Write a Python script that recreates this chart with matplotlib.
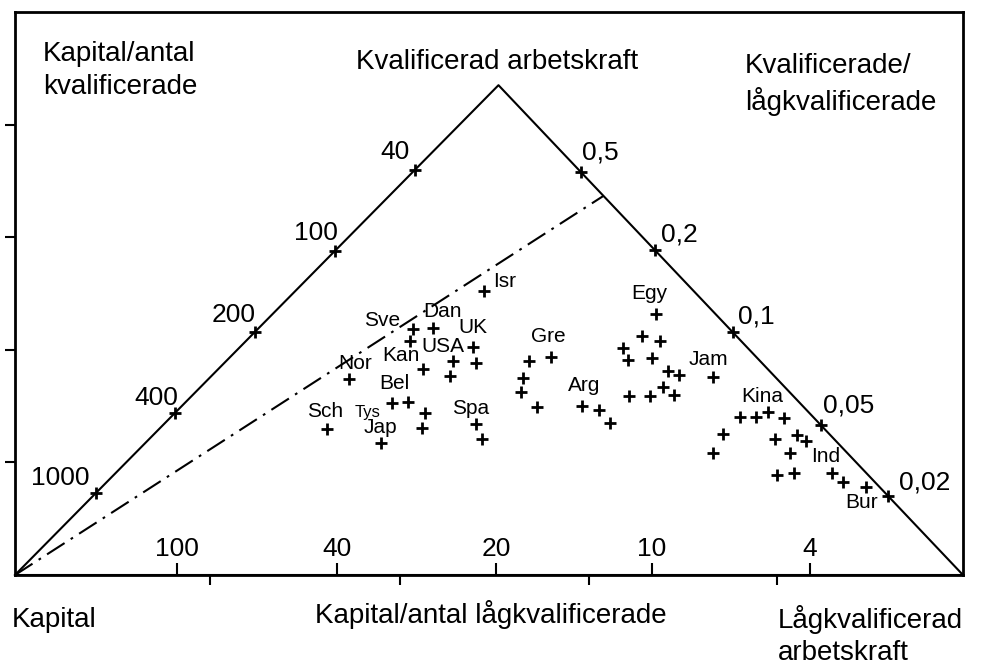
import numpy as np
import matplotlib
matplotlib.use("Agg")
import matplotlib.pyplot as plt

plt.rcParams['font.family'] = ['Liberation Sans', 'DejaVu Sans']

# triangel: hörn (kapital, kvalificerad, lågkvalificerad)
tri_x = [0.0, 2.55, 5.0, 0.0]
tri_y = [0.0, 4.35, 0.0, 0.0]

# skalor längs sidorna (andel av sidan)
left_labels = ["1000", "400", "200", "100", "40"]
left_pos = [0.167, 0.331, 0.496, 0.661, 0.827]          # från kapital-hörnet
right_labels = ["0,5", "0,2", "0,1", "0,05", "0,02"]
right_pos = [0.177, 0.337, 0.504, 0.694, 0.839]         # från toppen
base_labels = ["100", "40", "20", "10", "4"]
base_pos = [0.854, 1.698, 2.537, 3.360, 4.193]

# streckprickad linje, slutpunkt på högra sidan
dash_end = 0.226

# länder
pts_x = [2.474, 2.099, 2.205, 2.083, 2.416, 2.310, 2.431, 2.152, 2.294, 1.762,
         1.988, 2.073, 2.162, 1.646, 2.147, 2.431, 1.930, 2.463,
         2.711, 2.827, 2.679, 2.669, 2.753, 2.991, 3.080, 3.138,
         3.381, 3.307, 3.402, 3.207, 3.233, 3.360, 3.444, 3.502, 3.418, 3.476,
         3.238, 3.349, 3.681,
         3.824, 3.908, 3.971, 4.056, 3.734, 3.681, 4.008, 4.124, 4.172, 4.088,
         4.019, 4.109, 4.309, 4.367, 4.488]
pts_y = [2.522, 2.185, 2.194, 2.078, 2.025, 1.901, 1.883, 1.829, 1.767, 1.741,
         1.528, 1.536, 1.439, 1.297, 1.306, 1.341, 1.172, 1.208,
         1.901, 1.936, 1.750, 1.625, 1.492, 1.501, 1.465, 1.350,
         2.318, 2.123, 2.078, 2.016, 1.909, 1.927, 1.812, 1.776, 1.670, 1.599,
         1.590, 1.590, 1.758,
         1.403, 1.403, 1.448, 1.394, 1.252, 1.083, 1.208, 1.243, 1.190, 1.083,
         0.888, 0.906, 0.906, 0.826, 0.782]

names = ["Isr", "Sve", "Dan", "UK", "USA", "Kan", "Nor", "Bel", "Sch", "Tys",
         "Jap", "Spa", "Gre", "Arg", "Egy", "Jam", "Kina", "Ind", "Bur"]
name_x = [2.584, 1.936, 2.257, 2.416, 2.257, 2.036, 1.793, 1.999, 1.635, 1.857,
          1.925, 2.405, 2.811, 3.001, 3.344, 3.655, 3.940, 4.277, 4.467]
name_y = [2.611, 2.256, 2.336, 2.202, 2.025, 1.945, 1.874, 1.705, 1.456, 1.445,
          1.314, 1.483, 2.114, 1.679, 2.504, 1.918, 1.581, 1.048, 0.648]

fig = plt.figure(figsize=(9.83, 6.68), dpi=100)
ax = fig.add_axes([15/983, 93/668, 948/983, 563/668])
ax.set_xlim(0, 5)
ax.set_ylim(0, 5)
ax.set_xticks([1.03, 2.03, 3.03, 4.02])
ax.set_yticks([1, 2, 3, 4])
ax.set_xticklabels([])
ax.set_yticklabels([])
ax.tick_params(length=7, width=1.5, color='black')
for s in ax.spines.values():
    s.set_linewidth(2)

# triangeln
ax.plot(tri_x, tri_y, color='black', lw=1.5, clip_on=False)

apex = np.array([tri_x[1], tri_y[1]])
left_v = np.array([tri_x[0], tri_y[0]])
right_v = np.array([tri_x[2], tri_y[2]])

end = apex + dash_end * (right_v - apex)
ax.plot([0, end[0]], [0, end[1]], color='black', lw=1.5, dashes=(10, 3.5, 1.3, 3.5))

# skalmarkeringar på vänster sida
left_off = [(-35, 15), (-19, 15), (-21, 17), (-19, 18), (-20, 18)]
for lab, t, off in zip(left_labels, left_pos, left_off):
    p = left_v + t * (apex - left_v)
    ax.plot(p[0], p[1], marker='+', ms=9, mew=2, color='black')
    ax.annotate(lab, p, xytext=off, textcoords='offset pixels',
                ha='center', va='center', fontsize=19)

right_off = [(20, 19), (24, 16), (24, 16), (28, 20), (36, 14)]
for lab, t, off in zip(right_labels, right_pos, right_off):
    p = apex + t * (right_v - apex)
    ax.plot(p[0], p[1], marker='+', ms=9, mew=2, color='black')
    ax.annotate(lab, p, xytext=off, textcoords='offset pixels',
                ha='center', va='center', fontsize=19)

for lab, x in zip(base_labels, base_pos):
    ax.plot(x, 0, marker=2, ms=9, mew=1.5, color='black')
    ax.annotate(lab, (x, 0), xytext=(0, 26), textcoords='offset pixels',
                ha='center', va='center', fontsize=19)

# länderna
ax.plot(pts_x, pts_y, ls='none', marker='+', ms=9, mew=2, color='black')
for n, x, y in zip(names, name_x, name_y):
    ax.text(x, y, n, ha='center', va='center',
            fontsize=12 if n == "Tys" else 15)

# rubriker
ax.text(0.148, 4.74, "Kapital/antal\nkvalificerade", ha='left', va='top',
        fontsize=20, linespacing=1.35)
ax.text(2.542, 4.556, "Kvalificerad arbetskraft", ha='center', va='center',
        fontsize=20)
ax.text(3.85, 4.64, "Kvalificerade/\nlågkvalificerade", ha='left', va='top',
        fontsize=20, linespacing=1.35)
ax.text(-0.016, -0.4, "Kapital", ha='left', va='center', fontsize=20,
        clip_on=False)
ax.text(2.51, -0.355, "Kapital/antal lågkvalificerade", ha='center',
        va='center', fontsize=20, clip_on=False)
ax.text(4.024, -0.265, "Lågkvalificerad\narbetskraft", ha='left', va='top',
        fontsize=20, linespacing=1.3, clip_on=False)

fig.savefig("out.png", dpi=100)
